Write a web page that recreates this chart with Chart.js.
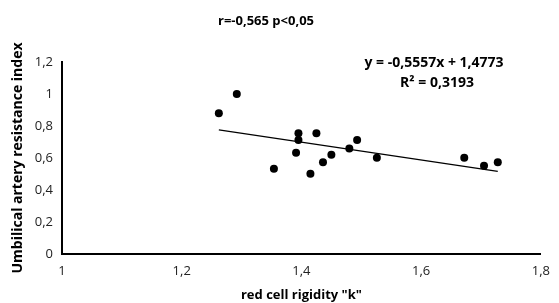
<!DOCTYPE html>
<html>
<head>
<meta charset="utf-8">
<script src="https://cdn.jsdelivr.net/npm/chart.js@4.4.1/dist/chart.umd.min.js"></script>
<style>
  body { margin: 0; background: #fff; }
  #grafico { display: block; }
</style>
</head>
<body>
<canvas id="grafico" width="559" height="303"></canvas>
<script>
// Datos
const rigidezK = [1.262, 1.292, 1.395, 1.395, 1.425, 1.391, 1.354, 1.415, 1.436, 1.450, 1.480, 1.493, 1.526, 1.672, 1.705, 1.728];
const indiceResistencia = [0.88, 1.0, 0.754, 0.712, 0.754, 0.633, 0.533, 0.502, 0.573, 0.621, 0.66, 0.712, 0.602, 0.602, 0.552, 0.573];

// Linea de tendencia (extremos)
const tendenciaX = [1.262, 1.728];
const tendenciaY = [0.776, 0.517];

const ticksX = [1, 1.2, 1.4, 1.6, 1.8];
const ticksY = [0, 0.2, 0.4, 0.6, 0.8, 1, 1.2];

const titulo = "r=-0,565 p<0,05";
const ecuacion = "y = -0,5557x + 1,4773";
const r2 = "R² = 0,3193";

const FUENTE = "'Open Sans', 'Liberation Sans', sans-serif";

function formatoComa(v) {
  return String(Math.round(v * 10) / 10).replace(".", ",");
}

// Textos fijos: titulo y ecuacion
const textosPlugin = {
  id: "textos",
  afterDraw(chart) {
    const ctx = chart.ctx;
    ctx.save();
    ctx.fillStyle = "#000";
    ctx.textAlign = "center";
    ctx.textBaseline = "middle";
    ctx.font = "bold 13px " + FUENTE;
    ctx.fillText(titulo, 266, 21);
    ctx.font = "bold 14px " + FUENTE;
    ctx.fillText(ecuacion, 434, 63);
    ctx.fillText(r2, 437, 83);
    ctx.restore();
  }
};

new Chart(document.getElementById("grafico"), {
  type: "scatter",
  data: {
    datasets: [
      {
        data: rigidezK.map((x, i) => ({ x, y: indiceResistencia[i] })),
        backgroundColor: "#000",
        borderColor: "#000",
        borderWidth: 0,
        pointRadius: 4,
        pointHoverRadius: 4
      },
      {
        type: "line",
        data: tendenciaX.map((x, i) => ({ x, y: tendenciaY[i] })),
        borderColor: "#000",
        borderWidth: 1.3,
        pointRadius: 0,
        fill: false
      }
    ]
  },
  options: {
    responsive: false,
    animation: false,
    layout: { padding: { top: 62, right: 14, left: 0, bottom: 0 } },
    plugins: {
      legend: { display: false },
      tooltip: { enabled: false }
    },
    scales: {
      x: {
        type: "linear",
        min: 1,
        max: 1.8,
        afterBuildTicks: (s) => { s.ticks = ticksX.map((v) => ({ value: v })); },
        afterFit: (s) => { s.height = 49; },
        grid: { display: false, drawTicks: false },
        border: { display: true, color: "#000", width: 2 },
        ticks: {
          color: "#222",
          padding: 9,
          font: { family: FUENTE, size: 13 },
          callback: (v) => formatoComa(v)
        },
        title: {
          display: true,
          text: 'red cell rigidity "k"',
          color: "#000",
          font: { family: FUENTE, size: 13, weight: "bold" },
          padding: { top: 0, bottom: 0 }
        }
      },
      y: {
        type: "linear",
        min: 0,
        max: 1.2,
        afterBuildTicks: (s) => { s.ticks = ticksY.map((v) => ({ value: v })); },
        afterFit: (s) => { s.width = 62; },
        grid: { display: false, drawTicks: false },
        border: { display: true, color: "#000", width: 2 },
        ticks: {
          color: "#222",
          padding: 9,
          font: { family: FUENTE, size: 13 },
          callback: (v) => formatoComa(v)
        },
        title: {
          display: true,
          text: "Umbilical artery resistance index",
          color: "#000",
          font: { family: FUENTE, size: 14, weight: "bold" },
          padding: { top: 10, bottom: 0 }
        }
      }
    }
  },
  plugins: [textosPlugin]
});
</script>
</body>
</html>
